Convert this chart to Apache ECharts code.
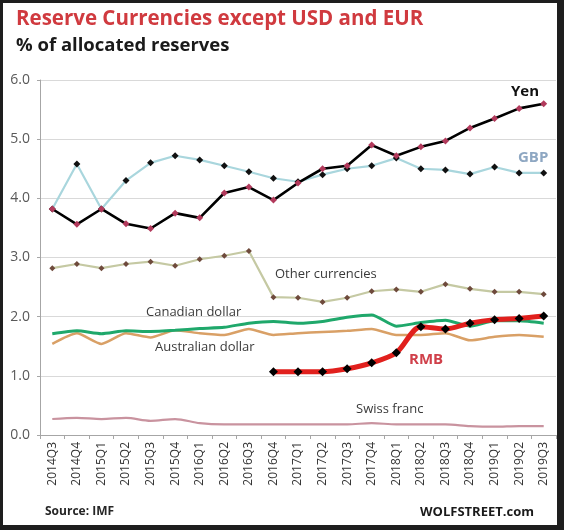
<!DOCTYPE html>
<html><head><meta charset="utf-8">
<script src="https://cdn.jsdelivr.net/npm/echarts@6/dist/echarts.min.js"></script>
<style>
html,body{margin:0;padding:0;}
#frame{position:absolute;left:0;top:0;width:564px;height:530px;background:#1e1e1e;}
#inner{position:absolute;left:3px;top:3px;width:554px;height:522px;background:#fff;}
#chart{position:absolute;left:0;top:0;width:564px;height:530px;}
</style></head>
<body>
<div id="frame"><div id="inner"></div></div>
<div id="chart"></div>
<script>
const categories = ['2014Q3','2014Q4','2015Q1','2015Q2','2015Q3','2015Q4','2016Q1','2016Q2','2016Q3','2016Q4','2017Q1','2017Q2','2017Q3','2017Q4','2018Q1','2018Q2','2018Q3','2018Q4','2019Q1','2019Q2','2019Q3'];
const yen   = [3.82,3.56,3.82,3.57,3.49,3.75,3.67,4.09,4.19,3.97,4.26,4.50,4.55,4.90,4.72,4.87,4.97,5.19,5.35,5.52,5.60];
const gbp   = [3.82,4.58,3.82,4.30,4.60,4.72,4.65,4.55,4.45,4.34,4.28,4.40,4.50,4.55,4.68,4.50,4.48,4.41,4.53,4.43,4.43];
const other = [2.82,2.89,2.82,2.89,2.93,2.86,2.97,3.03,3.11,2.33,2.32,2.25,2.32,2.43,2.46,2.42,2.55,2.47,2.42,2.42,2.38];
const cad   = [1.71,1.76,1.71,1.76,1.75,1.77,1.80,1.82,1.89,1.92,1.89,1.92,1.99,2.03,1.84,1.90,1.94,1.84,1.93,1.93,1.89];
const aud   = [1.54,1.72,1.54,1.72,1.65,1.77,1.72,1.69,1.79,1.69,1.72,1.74,1.76,1.79,1.69,1.69,1.72,1.60,1.66,1.69,1.66];
const rmb   = [null,null,null,null,null,null,null,null,null,1.07,1.07,1.07,1.12,1.22,1.39,1.83,1.79,1.89,1.95,1.97,2.01];
const chf   = [0.27,0.29,0.27,0.29,0.24,0.27,0.20,0.18,0.18,0.18,0.18,0.18,0.18,0.20,0.18,0.18,0.18,0.15,0.14,0.15,0.15];
const yTicks = [0,1,2,3,4,5,6];

const FONT = '"Open Sans", "DejaVu Sans", sans-serif';
const chart = echarts.init(document.getElementById('chart'), null, {renderer:'canvas'});
function txt(x, y, text, style) {
  return {type:'text', x:x, y:y, style:Object.assign({text:text, fontFamily:FONT, fontSize:13, fill:'#404040', textVerticalAlign:'middle'}, style||{})};
}
chart.setOption({
  animation:false,
  backgroundColor:'transparent',
  grid:{left:40, right:8, top:80, bottom:95, containLabel:false},
  xAxis:{
    type:'category', data:categories, boundaryGap:true,
    axisLine:{lineStyle:{color:'#a6a6a6', width:1}},
    axisTick:{show:true, length:4, lineStyle:{color:'#a6a6a6'}},
    axisLabel:{rotate:90, color:'#333', fontFamily:FONT, fontSize:12, margin:7, interval:0}
  },
  yAxis:{
    type:'value', min:yTicks[0], max:yTicks[yTicks.length-1], interval:1,
    axisLine:{show:true, lineStyle:{color:'#a6a6a6'}},
    axisTick:{show:true, length:3, lineStyle:{color:'#a6a6a6'}},
    splitLine:{lineStyle:{color:'#d9d9d9', width:1.2}},
    axisLabel:{color:'#595959', fontFamily:FONT, fontSize:14, margin:10, formatter:v=>v.toFixed(1)}
  },
  series:[
    {name:'Swiss franc', type:'line', data:chf, smooth:0.3, symbol:'none', lineStyle:{color:'#c9939f', width:2.2}, z:2},
    {name:'Australian dollar', type:'line', data:aud, smooth:0.2, symbol:'none', lineStyle:{color:'#d9a066', width:2.5}, z:3},
    {name:'Canadian dollar', type:'line', data:cad, smooth:0.2, symbol:'none', lineStyle:{color:'#1fa86b', width:3}, z:4},
    {name:'Other currencies', type:'line', data:other, symbol:'diamond', symbolSize:6, itemStyle:{color:'#6e4a3c'}, lineStyle:{color:'#c5c9a3', width:2.2}, z:3},
    {name:'GBP', type:'line', data:gbp, symbol:'diamond', symbolSize:7, itemStyle:{color:'#111'}, lineStyle:{color:'#a9d6dd', width:2.2}, z:5},
    {name:'Yen', type:'line', data:yen, symbol:'diamond', symbolSize:7, itemStyle:{color:'#b23a5c'}, lineStyle:{color:'#000', width:2.6}, z:6},
    {name:'RMB', type:'line', data:rmb, smooth:0.3, symbol:'diamond', symbolSize:9, itemStyle:{color:'#000'}, lineStyle:{color:'#e1201d', width:5}, z:7}
  ],
  graphic:[
    txt(16, 19, 'Reserve Currencies except USD and EUR', {fill:'#d03a3f', fontSize:20.5, fontWeight:'bold'}),
    txt(16, 46, '% of allocated reserves', {fill:'#1a1a1a', fontSize:18.5, fontWeight:'bold'}),
    txt(511, 92, 'Yen', {fill:'#111', fontSize:15, fontWeight:'bold'}),
    txt(518, 158, 'GBP', {fill:'#8ea7c2', fontSize:15, fontWeight:'bold'}),
    txt(275, 274, 'Other currencies', {fill:'#3a3a3a', fontSize:13}),
    txt(146, 312, 'Canadian dollar', {fill:'#3a3a3a', fontSize:13}),
    txt(155, 347, 'Australian dollar', {fill:'#3a3a3a', fontSize:13}),
    txt(409, 360, 'RMB', {fill:'#d0404a', fontSize:15, fontWeight:'bold'}),
    txt(356, 409, 'Swiss franc', {fill:'#3a3a3a', fontSize:13}),
    txt(45, 512, 'Source: IMF', {fill:'#262626', fontSize:12, fontWeight:'bold'}),
    txt(420, 512, 'WOLFSTREET.com', {fill:'#1a1a1a', fontSize:13, fontWeight:'bold'})
  ]
});
</script>
</body></html>
